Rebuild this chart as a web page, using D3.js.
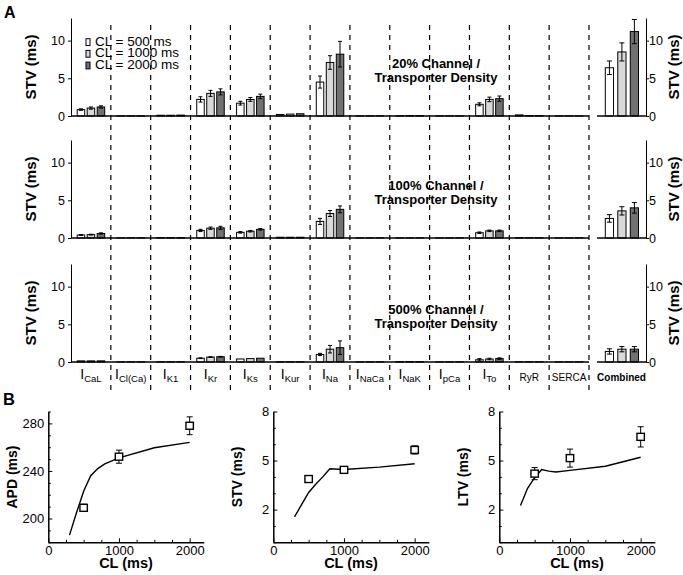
<!DOCTYPE html>
<html><head><meta charset="utf-8">
<script src="https://cdn.jsdelivr.net/npm/d3@7"></script>
<style>body{margin:0;background:#fff} svg{font-family:"Liberation Sans",Arial,sans-serif}</style>
</head><body><svg id="c" width="683" height="575"></svg>
<script>
// ---------- DATA ----------
const categories = ["CaL","Cl(Ca)","K1","Kr","Ks","Kur","Na","NaCa","NaK","pCa","To","RyR","SERCA"];
const catSub = ["CaL","Cl(Ca)","K1","Kr","Ks","Kur","Na","NaCa","NaK","pCa","To",null,null];
const seriesLabels = ["CL = 500 ms","CL = 1000 ms","CL = 2000 ms"];
const seriesColors = ["#ffffff","#d9d9d9","#717171"];
const yTicksA = [0,5,10];

// 20% channel / transporter density
const stv20_500  = [0.85,0.02,0.10,2.2,1.7,0.20,4.5,0.02,0.03,0.02,1.55,0.15,0.02];
const stv20_1000 = [1.05,0.02,0.10,3.0,2.2,0.25,7.1,0.02,0.05,0.02,2.2,0.05,0.02];
const stv20_2000 = [1.20,0.02,0.12,3.2,2.6,0.30,8.2,0.02,0.05,0.02,2.3,0.05,0.02];
const err20_500  = [0.10,0,0,0.35,0.25,0.03,0.8,0,0,0,0.2,0,0];
const err20_1000 = [0.15,0,0,0.40,0.25,0.03,0.9,0,0,0,0.3,0,0];
const err20_2000 = [0.15,0,0,0.40,0.30,0.03,1.7,0,0,0,0.35,0,0];
const comb20 = [6.4,8.5,11.2];
const combErr20 = [0.9,1.2,1.6];

// 100%
const stv100_500  = [0.40,0.02,0.05,1.00,0.75,0.10,2.20,0.02,0.02,0.02,0.70,0.05,0.02];
const stv100_1000 = [0.45,0.02,0.05,1.30,0.90,0.10,3.25,0.02,0.02,0.02,0.95,0.03,0.02];
const stv100_2000 = [0.60,0.02,0.05,1.35,1.15,0.10,3.80,0.02,0.02,0.02,0.95,0.03,0.02];
const err100_500  = [0.05,0,0,0.15,0.10,0,0.40,0,0,0,0.10,0,0];
const err100_1000 = [0.05,0,0,0.15,0.10,0,0.40,0,0,0,0.10,0,0];
const err100_2000 = [0.08,0,0,0.20,0.10,0,0.45,0,0,0,0.10,0,0];
const comb100 = [2.6,3.6,4.0];
const combErr100 = [0.5,0.55,0.7];

// 500%
const stv500_500  = [0.15,0.02,0.03,0.50,0.40,0.03,1.0,0.02,0.05,0.02,0.30,0.03,0.02];
const stv500_1000 = [0.15,0.02,0.03,0.65,0.45,0.03,1.7,0.02,0.05,0.02,0.40,0.03,0.02];
const stv500_2000 = [0.15,0.02,0.03,0.70,0.50,0.03,1.9,0.02,0.05,0.02,0.45,0.03,0.02];
const err500_500  = [0.02,0,0,0.05,0.03,0,0.15,0,0,0,0.15,0,0];
const err500_1000 = [0.02,0,0,0.05,0.03,0,0.50,0,0,0,0.10,0,0];
const err500_2000 = [0.02,0,0,0.05,0.03,0,0.90,0,0,0,0.10,0,0];
const comb500 = [1.4,1.7,1.7];
const combErr500 = [0.35,0.35,0.35];

const panelTitles = [["20% Channel /","Transporter Density"],["100% Channel /","Transporter Density"],["500% Channel /","Transporter Density"]];

// Panel B
const clLine  = [300,400,500,600,700,800,1000,1500,2000];
const apdLine = [186,205,223,236,242,246,251,259.5,264];
const stvLine = [1.55,2.3,3.05,3.55,4.0,4.5,4.45,4.6,4.8];
const ltvLine = [2.25,3.3,3.95,4.45,4.35,4.3,4.4,4.65,5.2];
const clPts   = [500,1000,2000];
const xTicksB = [0,1000,2000];
const apdMean = [209,252,278], apdErr = [3,5.5,7.5];
const stvMean = [3.87,4.43,5.65], stvErr = [0.2,0.15,0.25];
const ltvMean = [4.2,5.15,6.45], ltvErr = [0.37,0.55,0.62];

// ---------- DRAW ----------
const svg = d3.select("#c");
const FONT = '"Liberation Sans",Arial,sans-serif';

const xCat = d3.scaleBand().domain(categories).range([71,589]).padding(0);
const xSub = d3.scaleBand().domain(d3.range(3)).range([6.2,33.7]).paddingInner(0.25);
const xComb = d3.scaleBand().domain(d3.range(3)).range([605.3,638.5]).paddingInner(0.34);

const panels = [
  {zero:116, top:18, vals:[stv20_500,stv20_1000,stv20_2000], errs:[err20_500,err20_1000,err20_2000], comb:comb20, combErr:combErr20},
  {zero:238, top:140, vals:[stv100_500,stv100_1000,stv100_2000], errs:[err100_500,err100_1000,err100_2000], comb:comb100, combErr:combErr100},
  {zero:362, top:264, vals:[stv500_500,stv500_1000,stv500_2000], errs:[err500_500,err500_1000,err500_2000], comb:comb500, combErr:combErr500}
];

// dashed separators
const bounds = categories.slice(1).map(c => xCat(c)).concat([xCat.range()[1]]);
svg.append("g").selectAll("line").data(bounds).join("line")
  .attr("x1", d=>d).attr("x2", d=>d).attr("y1", 25).attr("y2", 392)
  .attr("stroke","#000").attr("stroke-width",1.2).attr("stroke-dasharray","5,5");

function errBar(g, x, y, yLo, yHi, cap) {
  g.append("line").attr("x1",x).attr("x2",x).attr("y1",yLo).attr("y2",yHi).attr("stroke","#000").attr("stroke-width",1);
  g.append("line").attr("x1",x-cap).attr("x2",x+cap).attr("y1",yLo).attr("y2",yLo).attr("stroke","#000").attr("stroke-width",1);
  g.append("line").attr("x1",x-cap).attr("x2",x+cap).attr("y1",yHi).attr("y2",yHi).attr("stroke","#000").attr("stroke-width",1);
}

panels.forEach((p, pi) => {
  const y = d3.scaleLinear().domain([0,13]).range([p.zero, p.top]);
  const g = svg.append("g");
  categories.forEach((c, ci) => {
    for (let s = 0; s < 3; s++) {
      const v = p.vals[s][ci], e = p.errs[s][ci];
      const x0 = xCat(c) + xSub(s);
      g.append("rect").attr("x", x0).attr("y", y(v)).attr("width", xSub.bandwidth())
        .attr("height", Math.max(0, y(0)-y(v))).attr("fill", seriesColors[s]).attr("stroke","#000").attr("stroke-width",1);
      if (e > 0.04) errBar(g, x0 + xSub.bandwidth()/2, y(v), y(v+e), y(Math.max(0,v-e)), 2);
    }
  });
  for (let s = 0; s < 3; s++) {
    const v = p.comb[s], e = p.combErr[s];
    const x0 = xComb(s);
    g.append("rect").attr("x", x0).attr("y", y(v)).attr("width", xComb.bandwidth())
      .attr("height", y(0)-y(v)).attr("fill", seriesColors[s]).attr("stroke","#000").attr("stroke-width",1);
    errBar(g, x0 + xComb.bandwidth()/2, y(v), y(v+e), y(v-e), 2.5);
  }
  g.append("line").attr("x1", xCat.range()[0]).attr("x2", xCat.range()[1]).attr("y1", y(0)).attr("y2", y(0)).attr("stroke","#000").attr("stroke-width",1.3);
  g.append("line").attr("x1", 597).attr("x2", 646).attr("y1", y(0)).attr("y2", y(0)).attr("stroke","#000").attr("stroke-width",1.3);
  const la = g.append("g").attr("transform","translate(71,0)")
    .call(d3.axisLeft(y).tickValues(yTicksA).tickSize(3).tickSizeOuter(0).tickPadding(3));
  const ra = g.append("g").attr("transform","translate(646,0)")
    .call(d3.axisRight(y).tickValues(yTicksA).tickSize(3).tickSizeOuter(0).tickPadding(0));
  [la, ra].forEach(a => {
    a.selectAll("text").attr("font-size", 12.5).attr("font-family", FONT).attr("fill","#000");
    a.select(".domain").attr("stroke-width",1);
  });
  g.append("text").attr("transform", `translate(35.5,${(p.zero+p.top)/2}) rotate(-90)`)
    .attr("text-anchor","middle").attr("font-weight","bold").attr("font-size",15).text("STV (ms)");
  g.append("text").attr("transform", `translate(678.5,${(p.zero+p.top)/2}) rotate(-90)`)
    .attr("text-anchor","middle").attr("font-weight","bold").attr("font-size",15).text("STV (ms)");
  g.append("text").attr("x", 436).attr("y", p.zero-48).attr("text-anchor","middle").attr("font-weight","bold").attr("font-size",13).text(panelTitles[pi][0]);
  g.append("text").attr("x", 436).attr("y", p.zero-34.5).attr("text-anchor","middle").attr("font-weight","bold").attr("font-size",13).text(panelTitles[pi][1]);
});

// legend
const lg = svg.append("g");
seriesLabels.forEach((t, i) => {
  const by = 45.5 + i*11.7;
  lg.append("rect").attr("x", 86).attr("y", by-6.8).attr("width", 4).attr("height", 6.8)
    .attr("fill", seriesColors[i]).attr("stroke","#000").attr("stroke-width",1);
  lg.append("text").attr("x", 95).attr("y", by).attr("font-size", 13.5).text(t);
});

// category labels
categories.forEach((c, ci) => {
  const cx = xCat(c) + xCat.bandwidth()/2;
  if (catSub[ci]) {
    const t = svg.append("text").attr("x", cx).attr("y", 379).attr("text-anchor","middle");
    t.append("tspan").attr("font-size", 14).text("I");
    t.append("tspan").attr("font-size", 9.5).attr("dy", 3).text(catSub[ci]);
  } else {
    svg.append("text").attr("x", cx).attr("y", 380.5).attr("text-anchor","middle").attr("font-size", 10).text(c);
  }
});
svg.append("text").attr("x", 621.5).attr("y", 381).attr("text-anchor","middle").attr("font-weight","bold").attr("font-size",10).text("Combined");

svg.append("text").attr("x", 4).attr("y", 18).attr("font-weight","bold").attr("font-size",16).text("A");
svg.append("text").attr("x", 3).attr("y", 405).attr("font-weight","bold").attr("font-size",16.5).text("B");

// ---------- Panel B ----------
const bCharts = [
  {x0:48.3, yDom:[180,290], major:[200,240,280], minorStep:10, label:"APD (ms)", line:apdLine, mean:apdMean, err:apdErr},
  {x0:273.3, yDom:[0,8], major:[2,5,8], minorStep:1, label:"STV (ms)", line:stvLine, mean:stvMean, err:stvErr},
  {x0:499.3, yDom:[0,8], major:[2,5,8], minorStep:1, label:"LTV (ms)", line:ltvLine, mean:ltvMean, err:ltvErr}
];
bCharts.forEach(ch => {
  const x = d3.scaleLinear().domain([0,2200]).range([ch.x0, ch.x0 + 155.5]);
  const y = d3.scaleLinear().domain(ch.yDom).range([542.3, 411.5]);
  const g = svg.append("g");
  const minorY = d3.range(ch.yDom[0], ch.yDom[1]+0.001, ch.minorStep).filter(v => !ch.major.includes(v));
  const minorX = d3.range(250, 2200, 250).filter(v => v % 1000 !== 0);
  g.append("g").attr("transform",`translate(${ch.x0},0)`)
    .call(d3.axisLeft(y).tickValues(minorY).tickSize(-2.5).tickFormat("").tickSizeOuter(0))
    .call(a => a.select(".domain").remove());
  g.append("g").attr("transform",`translate(0,542.3)`)
    .call(d3.axisBottom(x).tickValues(minorX).tickSize(-2.5).tickFormat("").tickSizeOuter(0))
    .call(a => a.select(".domain").remove());
  const ya = g.append("g").attr("transform",`translate(${ch.x0},0)`)
    .call(d3.axisLeft(y).tickValues(ch.major).tickSize(-4).tickSizeOuter(0).tickPadding(4).tickFormat(d3.format("d")));
  const xa = g.append("g").attr("transform",`translate(0,542.3)`)
    .call(d3.axisBottom(x).tickValues(xTicksB).tickSize(-4).tickSizeOuter(0).tickPadding(3).tickFormat(d3.format("d")));
  [ya, xa].forEach(a => {
    a.selectAll("text").attr("font-size", 13).attr("font-family", FONT).attr("fill","#000");
    a.select(".domain").attr("stroke-width",1.5);
  });
  g.append("path").datum(clLine.map((c,i)=>[c, ch.line[i]]))
    .attr("d", d3.line().x(d=>x(d[0])).y(d=>y(d[1])))
    .attr("fill","none").attr("stroke","#000").attr("stroke-width",1.4);
  clPts.forEach((c, i) => {
    const cx = x(c), cy = y(ch.mean[i]);
    errBar(g, cx, cy, y(ch.mean[i]+ch.err[i]), y(ch.mean[i]-ch.err[i]), 3);
    g.append("rect").attr("x", cx-3.7).attr("y", cy-3.5).attr("width", 7.4).attr("height", 7)
      .attr("fill","#fff").attr("stroke","#000").attr("stroke-width",1.4);
  });
  g.append("text").attr("transform", `translate(${ch.x0-31.5},477) rotate(-90)`)
    .attr("text-anchor","middle").attr("font-weight","bold").attr("font-size",14).text(ch.label);
  g.append("text").attr("x", ch.x0 + 77.7).attr("y", 568).attr("text-anchor","middle")
    .attr("font-weight","bold").attr("font-size",14.5).text("CL (ms)");
});
</script>
</body></html>
